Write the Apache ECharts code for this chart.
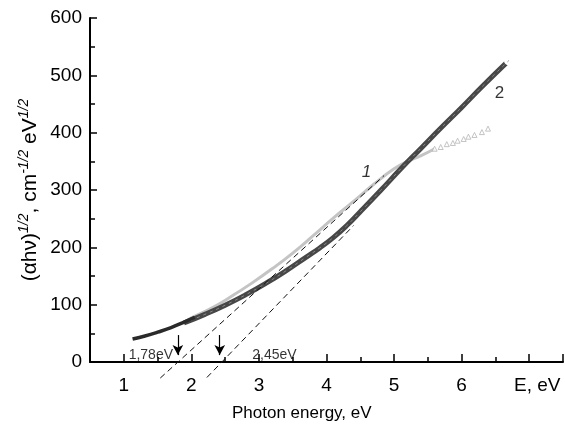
<!DOCTYPE html>
<html lang="en">
<head>
<meta charset="UTF-8">
<title>Tauc plot</title>
<script src="https://cdn.jsdelivr.net/npm/echarts@6/dist/echarts.min.js"></script>
<style>
  html, body { margin: 0; padding: 0; background: #fff; }
  #main { width: 565px; height: 425px; }
</style>
</head>
<body>
<div id="main"></div>
<script>
// curve 1 (light grey, triangles), low-energy part drawn dark
var curve1LowE = [1.13, 1.3, 1.5, 1.7, 1.9, 2.05];
var curve1LowY = [40, 45, 52, 60, 70, 78];
var curve1E = [1.9, 2.0, 2.3, 2.6, 2.9, 3.2, 3.5, 3.8, 4.1, 4.4, 4.7, 5.0, 5.2, 5.4, 5.6];
var curve1Y = [70, 77, 94, 115, 138, 163, 190, 220, 251, 280, 310, 337, 350, 360, 372];
var triE = [5.60, 5.69, 5.78, 5.87, 5.94, 6.03, 6.10, 6.19, 6.30, 6.39];
var triY = [372, 375, 380, 382, 386, 389, 393, 396, 401, 407];

// curve 2 (dark, circles)
var curve2E = [1.89, 2.2, 2.5, 2.8, 3.1, 3.4, 3.7, 3.9, 4.1, 4.3, 4.5, 4.8, 5.1, 5.4, 5.7, 6.0, 6.3, 6.7];
var curve2Y = [68, 83, 99, 117, 137, 159, 183, 199, 217, 238, 262, 299, 337, 373, 409, 444, 480, 526];

// tangent lines (extrapolation to the band gap)
var tangentAE = [1.54, 4.85];
var tangentAY = [-28, 325];
var tangentBE = [2.23, 4.4];
var tangentBY = [-27, 238];

// arrows and gap labels
var arrowE = [1.8, 2.42];
var arrowTop = 47, arrowBottom = 12;
var gapLabels = ['1,78eV', '2,45eV'];
var gapLabelE = [1.40, 3.23];
var gapLabelY = [12, 12];
var curveLabels = ['1', '2'];
var curveLabelE = [4.59, 6.56];
var curveLabelY = [331, 469];

var xMajor = [1, 2, 3, 4, 5, 6, 7, 7.5];
var xLabels = [1, 2, 3, 4, 5, 6];

function zip(a, b) {
    var out = [];
    for (var i = 0; i < a.length; i++) out.push([a[i], b[i]]);
    return out;
}

var font = 'Arial, "Liberation Sans", sans-serif';
var myChart = echarts.init(document.getElementById('main'));

var c2data = zip(curve2E, curve2Y);
c2data[c2data.length - 1] = { value: c2data[c2data.length - 1], symbol: 'emptyCircle', symbolSize: 8 };

var arrowLines = [];
for (var i = 0; i < arrowE.length; i++) {
    arrowLines.push([{ coord: [arrowE[i], arrowTop] }, { coord: [arrowE[i], arrowBottom] }]);
}

var gapData = [];
for (var i = 0; i < gapLabels.length; i++) gapData.push({ name: gapLabels[i], value: [gapLabelE[i], gapLabelY[i]] });
var curveLabelData = [];
for (var i = 0; i < curveLabels.length; i++) {
    curveLabelData.push({
        name: curveLabels[i], value: [curveLabelE[i], curveLabelY[i]],
        label: { fontStyle: i === 0 ? 'italic' : 'normal' }
    });
}

var option = {
    animation: false,
    backgroundColor: '#fff',
    grid: { left: 90, right: 2, top: 18, bottom: 63 },
    xAxis: [
        {
            type: 'value', min: 0.5, max: 7.5,
            axisLine: { onZero: false, lineStyle: { color: '#000', width: 2 } },
            axisTick: { inside: true, length: 8, lineStyle: { color: '#000', width: 1.5 }, customValues: xMajor },
            axisLabel: { customValues: xLabels, margin: 14, color: '#000', fontSize: 19, fontFamily: font },
            splitLine: { show: false }
        },
        {
            type: 'value', min: 0.5, max: 7.5, interval: 1, position: 'bottom',
            axisLine: { show: false },
            axisTick: { inside: true, length: 5, lineStyle: { color: '#000', width: 1.5 } },
            axisLabel: { show: false },
            splitLine: { show: false }
        }
    ],
    yAxis: {
        type: 'value', min: 0, max: 600, interval: 100,
        axisLine: { show: true, lineStyle: { color: '#000', width: 2 } },
        axisTick: { show: true, inside: true, length: 7, lineStyle: { color: '#000', width: 1.5 } },
        minorTick: { show: true, splitNumber: 2, length: 5, lineStyle: { color: '#000', width: 1.5 } },
        axisLabel: { margin: 8, color: '#000', fontSize: 19, fontFamily: font },
        splitLine: { show: false },
        name: '(αhν){sup|1/2}, cm{sup|-1/2} eV{sup|1/2}',
        nameLocation: 'middle',
        nameGap: 47,
        nameMoveOverlap: false,
        nameTextStyle: {
            color: '#000', fontSize: 21, fontFamily: font, lineHeight: 26,
            rich: { sup: { fontSize: 14, fontStyle: 'italic', fontFamily: font, color: '#000', verticalAlign: 'top', lineHeight: 14 } }
        }
    },
    graphic: [
        { type: 'text', left: 514, top: 376, style: { text: 'E, eV', fontSize: 19, fontFamily: font, fill: '#000' } },
        { type: 'text', left: 232, top: 405, style: { text: 'Photon energy, eV', fontSize: 17, fontFamily: font, fill: '#000' } }
    ],
    series: [
        {
            name: '1', type: 'line', data: zip(curve1E, curve1Y), smooth: true, showSymbol: false,
            lineStyle: { color: '#c4c4c4', width: 3 }, z: 2
        },
        {
            name: '1 tri', type: 'scatter', data: zip(triE, triY), symbol: 'triangle', symbolSize: 5,
            itemStyle: { color: '#fff', borderColor: '#b5b5b5', borderWidth: 1 }, z: 2
        },
        {
            name: '2', type: 'line', data: c2data, smooth: true, showSymbol: true, symbol: 'none',
            lineStyle: { color: '#474747', width: 5 },
            itemStyle: { color: '#fff', borderColor: '#777', borderWidth: 1.2 }, z: 3
        },
        {
            name: '2 inner', type: 'line', data: zip(curve2E, curve2Y), smooth: true, showSymbol: false,
            lineStyle: { color: '#8a8a8a', width: 1, type: [3, 4] }, z: 4
        },
        {
            name: '1 low', type: 'line', data: zip(curve1LowE, curve1LowY), smooth: true, showSymbol: false,
            lineStyle: { color: '#2a2a2a', width: 3.5 }, z: 4
        },
        {
            name: 'tangent A', type: 'line', data: zip(tangentAE, tangentAY), showSymbol: false, clip: false,
            lineStyle: { color: '#111', width: 1, type: [6, 4] }, z: 5
        },
        {
            name: 'tangent B', type: 'line', data: zip(tangentBE, tangentBY), showSymbol: false, clip: false,
            lineStyle: { color: '#111', width: 1, type: [6, 4] }, z: 5,
            markLine: {
                silent: true, symbol: ['none', 'arrow'], symbolSize: [8, 10],
                label: { show: false },
                lineStyle: { color: '#000', width: 1.2, type: 'solid' },
                data: arrowLines
            }
        },
        {
            name: 'gap labels', type: 'scatter', data: gapData, symbolSize: 0, clip: false,
            label: { show: true, formatter: '{b}', color: '#000', fontSize: 14, fontFamily: font, position: 'inside' }, z: 6
        },
        {
            name: 'curve labels', type: 'scatter', data: curveLabelData, symbolSize: 0, clip: false,
            label: { show: true, formatter: '{b}', color: '#000', fontSize: 17, fontFamily: font, position: 'inside' }, z: 6
        }
    ]
};
myChart.setOption(option);
</script>
</body>
</html>
